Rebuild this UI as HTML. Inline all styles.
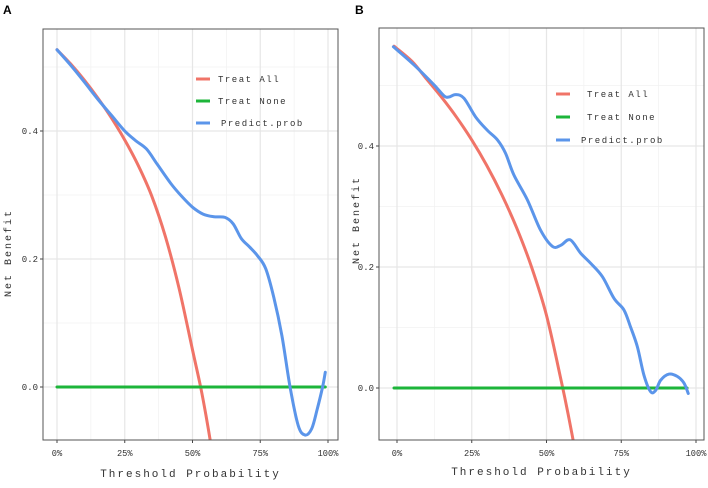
<!DOCTYPE html>
<html><head><meta charset="utf-8"><style>
body{margin:0;background:#fff;width:708px;height:483px;overflow:hidden}
svg text{font-family:"Liberation Mono","DejaVu Sans Mono",monospace;fill:#333}
</style></head><body>
<svg id="s" width="708" height="483" xmlns="http://www.w3.org/2000/svg">
<text x="3" y="14" style="font-family:'Liberation Sans',sans-serif;font-weight:bold;font-size:12px;fill:#000">A</text>
<text x="355" y="14" style="font-family:'Liberation Sans',sans-serif;font-weight:bold;font-size:12px;fill:#000">B</text>
</svg>
<script>
// Panel A data
const aXTicks=[0,25,50,75,100];
const aXTickLabels=["0%","25%","50%","75%","100%"];
const aYTicks=[0,0.2,0.4];
const aYTickLabels=["0.0","0.2","0.4"];
const aAllX=[0,5,10,15,20,25,30,35,40,45,50,53,55,57];
const aAllY=[0.527,0.505,0.480,0.452,0.421,0.386,0.346,0.298,0.235,0.155,0.058,0,-0.045,-0.095];
const aNoneX=[0,99];
const aNoneY=[0,0];
const aPredX=[0,5,10,15,20,25,29,33,37,42,46,50,54,58,62,65,68,71,74,77,80,83,86,89,91.5,94,96,98,99];
const aPredY=[0.527,0.503,0.477,0.45,0.425,0.40,0.385,0.372,0.348,0.318,0.298,0.281,0.27,0.266,0.265,0.255,0.232,0.219,0.205,0.185,0.14,0.08,0.0,-0.06,-0.075,-0.065,-0.035,0.0,0.023];
// Panel B data
const bXTicks=[0,25,50,75,100];
const bXTickLabels=["0%","25%","50%","75%","100%"];
const bYTicks=[0,0.2,0.4];
const bYTickLabels=["0.0","0.2","0.4"];
const bAllX=[-1,5,10,15,20,25,30,35,40,45,50,55,57.5,60];
const bAllY=[0.565,0.54,0.51,0.48,0.447,0.41,0.368,0.32,0.265,0.2,0.12,0.01,-0.05,-0.115];
const bNoneX=[-1,97];
const bNoneY=[0,0];
const bPredX=[-1.2,5.7,12.4,15.7,17.4,19.6,22.4,26.3,30.2,33.6,36.3,39.1,43.6,48,52,54.8,57.9,61.4,64.8,68.7,72.6,75.9,78.1,80.4,82.6,84.8,86.5,88.2,91,93.8,96,97.4];
const bPredY=[0.564,0.534,0.501,0.483,0.481,0.485,0.479,0.448,0.426,0.41,0.388,0.352,0.311,0.261,0.234,0.236,0.245,0.223,0.206,0.184,0.148,0.129,0.101,0.068,0.021,-0.006,-0.004,0.013,0.023,0.019,0.008,-0.009];

const NS="http://www.w3.org/2000/svg";
const svg=document.getElementById('s');
function mk(tag,attrs,parent){const e=document.createElementNS(NS,tag);for(const k in attrs)e.setAttribute(k,attrs[k]);(parent||svg).appendChild(e);return e;}
function smooth(pts){let d=`M${pts[0][0]},${pts[0][1]}`;for(let i=0;i<pts.length-1;i++){const p0=pts[i-1]||pts[i],p1=pts[i],p2=pts[i+1],p3=pts[i+2]||p2;d+=` C${p1[0]+(p2[0]-p0[0])/6},${p1[1]+(p2[1]-p0[1])/6} ${p2[0]-(p3[0]-p1[0])/6},${p2[1]-(p3[1]-p1[1])/6} ${p2[0]},${p2[1]}`;}return d;}

function panel(P){
  const g=mk('g',{});
  
  
  const cid='clip'+P.name;
  const cp=mk('clipPath',{id:cid},g);mk('rect',{x:P.l,y:P.t,width:P.r-P.l,height:P.b-P.t},cp);
  const X=v=>P.x0+(v/100)*(P.x100-P.x0);
  const Y=v=>P.y0-(v/0.4)*(P.y0-P.y04);
  [12.5,37.5,62.5,87.5].forEach(v=>{const l=mk('line',{x1:X(v),x2:X(v),y1:P.t,y2:P.b,stroke:'#f2f2f2','stroke-width':0.8},g);});
  [0.1,0.3,0.5].forEach(v=>{const l=mk('line',{x1:P.l,x2:P.r,y1:Y(v),y2:Y(v),stroke:'#f2f2f2','stroke-width':0.8},g);});
  P.xt.forEach((v,i)=>{const l=mk('line',{x1:X(v),x2:X(v),y1:P.t,y2:P.b,stroke:'#e6e6e6','stroke-width':1.2},g);
    const tk=mk('line',{x1:X(v),x2:X(v),y1:P.b,y2:P.b+3,stroke:'#444'},g);
    const t=mk('text',{x:X(v),y:P.b+16,'text-anchor':'middle','font-size':9,'textLength':P.xl[i].length*5.2,'lengthAdjust':'spacingAndGlyphs'},g);t.textContent=P.xl[i];});
  P.yt.forEach((v,i)=>{const l=mk('line',{x1:P.l,x2:P.r,y1:Y(v),y2:Y(v),stroke:'#e6e6e6','stroke-width':1.2},g);
    const tk=mk('line',{x1:P.l-3,x2:P.l,y1:Y(v),y2:Y(v),stroke:'#444'},g);
    const t=mk('text',{x:P.l-5,y:Y(v)+3,'text-anchor':'end','font-size':9},g);t.textContent=P.yl[i];});
  const lg=mk('g',{'clip-path':`url(#${cid})`},g);
  const series=[[P.allX,P.allY,'#f07468','treat-all-line'],[P.noneX,P.noneY,'#1db53a','treat-none-line'],[P.predX,P.predY,'#5b95ea','predict-prob-line']];
  series.forEach(s=>{const pts=s[0].map((x,i)=>[X(x),Y(s[1][i])]);const p=mk('path',{d:smooth(pts),fill:'none',stroke:s[2],'stroke-width':3,'stroke-linecap':'round'},lg);});
  const fr=mk('rect',{x:P.l,y:P.t,width:P.r-P.l,height:P.b-P.t,fill:'none',stroke:'#555','stroke-width':1},g);
  const names=['Treat All','Treat None','Predict.prob'],cols=['#f07468','#1db53a','#5b95ea'],ln=['legend-treat-all','legend-treat-none','legend-predict-prob'];
  names.forEach((n,i)=>{const y=P.lgy+i*P.lgd;const e=mk('g',{},g);
    mk('line',{x1:P.lgx,x2:P.lgx+14,y1:y,y2:y,stroke:cols[i],'stroke-width':3},e);
    const t=mk('text',{x:P.lgx+(i==2?25:P.lgt),y:y+3,'font-size':9,'letter-spacing':1.5},e);t.textContent=(i==0?' ':'')+n;});
  const xt=mk('text',{x:(P.l+P.r)/2,y:P.xty,'text-anchor':'middle','font-size':11,'letter-spacing':2},g);xt.textContent='Threshold Probability';
  const yt=mk('text',{x:P.ytx,y:P.yty,'text-anchor':'middle','font-size':10,'letter-spacing':2,transform:`rotate(-90 ${P.ytx} ${P.yty})`},g);yt.textContent='Net Benefit';
}
panel({name:'panel-a',l:43,r:338,t:29,b:440,x0:57,x100:328,y0:387,y04:131,xt:aXTicks,xl:aXTickLabels,yt:aYTicks,yl:aYTickLabels,allX:aAllX,allY:aAllY,noneX:aNoneX,noneY:aNoneY,predX:aPredX,predY:aPredY,lgx:196,lgy:79,lgd:22,lgt:22,xty:477,ytx:11,yty:253});
panel({name:'panel-b',l:379,r:704,t:28,b:440,x0:397,x100:696,y0:388,y04:146,xt:bXTicks,xl:bXTickLabels,yt:bYTicks,yl:bYTickLabels,allX:bAllX,allY:bAllY,noneX:bNoneX,noneY:bNoneY,predX:bPredX,predY:bPredY,lgx:556,lgy:94,lgd:23,lgt:31,xty:475,ytx:359,yty:220});
</script>
</body></html>
